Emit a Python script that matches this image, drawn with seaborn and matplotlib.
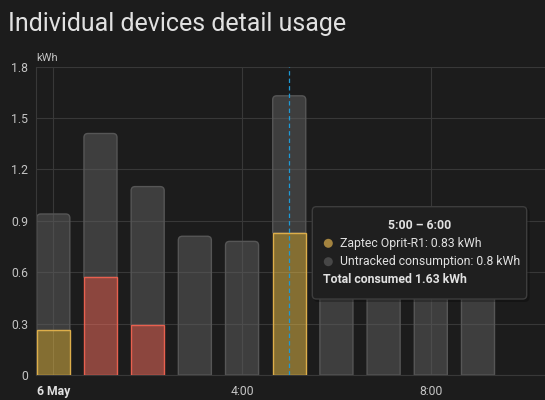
import numpy as np
import pandas as pd
import matplotlib
matplotlib.use("Agg")
import matplotlib.pyplot as plt
import seaborn as sns
from matplotlib.path import Path
from matplotlib.patches import PathPatch, FancyBboxPatch, Circle
from matplotlib.transforms import IdentityTransform

# ---------------- data ----------------
hours = [0, 1, 2, 3, 4, 5, 6, 7, 8, 9]
zaptec = [0.26, 0, 0, 0, 0, 0.83, 0, 0, 0, 0]
other_device = [0, 0.57, 0.29, 0, 0, 0, 0, 0, 0, 0]
untracked = [0.68, 0.84, 0.81, 0.81, 0.78, 0.80, 0.70, 0.66, 0.74, 0.69]
y_ticks = [0, 0.3, 0.6, 0.9, 1.2, 1.5, 1.8]
y_tick_labels = ["0", "0.3", "0.6", "0.9", "1.2", "1.5", "1.8"]
x_tick_hours = [0, 4, 8]
x_tick_labels = ["6 May", "4:00", "8:00"]
title = "Individual devices detail usage"
unit = "kWh"
tooltip_title = "5:00 \u2013 6:00"
tooltip_lines = ["Zaptec Oprit-R1: 0.83 kWh", "Untracked consumption: 0.8 kWh"]
tooltip_total = "Total consumed 1.63 kWh"
hover_hour = 5

# ---------------- style ----------------
BG = "#1c1c1c"
GRID = "#383838"
TXT = "#e1e1e1"
TICK = "#c4c4c4"
GRAY_FILL = (0.38, 0.38, 0.38, 0.5)
GRAY_EDGE = "#565656"
YEL_FILL = (236 / 255, 192 / 255, 72 / 255, 0.5)
YEL_EDGE = "#ddae4a"
RED_FILL = (252 / 255, 112 / 255, 96 / 255, 0.5)
RED_EDGE = "#e8604f"

sns.set_theme(style="dark", rc={
    "figure.facecolor": BG, "axes.facecolor": BG, "savefig.facecolor": BG,
    "axes.edgecolor": GRID, "grid.color": GRID, "text.color": TXT,
    "xtick.color": TICK, "ytick.color": TICK,
})
plt.rcParams["font.family"] = ["Roboto", "DejaVu Sans"]

W, H = 545, 400
fig = plt.figure(figsize=(W / 100, H / 100), dpi=100)
ax_left, ax_bottom, ax_top = 36.3, 375.0, 66.7
ax = fig.add_axes([ax_left / W, (H - ax_bottom) / H, 1 - ax_left / W, (ax_bottom - ax_top) / H])
ax.set_facecolor(BG)

device = np.array(zaptec) + np.array(other_device)
total = device + np.array(untracked)
df = pd.DataFrame({"hour": hours, "total": total, "zaptec": zaptec, "other": other_device})

xlim = (-0.36, 10.42)
ylim = (0, 1.8)

# gray (untracked) layer: positions from seaborn, drawn with rounded top corners
sns.barplot(data=df, x="hour", y="total", order=hours, width=0.7, errorbar=None,
            color="gray", ax=ax)
ax.set_xlim(*xlim)
ax.set_ylim(*ylim)
px_per_x = (W - ax_left) / (xlim[1] - xlim[0])
px_per_y = (ax_bottom - ax_top) / (ylim[1] - ylim[0])
r_px = 4.0
rx, ry = r_px / px_per_x, r_px / px_per_y

gray_bars = list(ax.patches)
for p, y0, y1 in zip(gray_bars, device, total):
    x0 = p.get_x()
    x1 = x0 + p.get_width()
    p.remove()
    verts = [(x0, y0), (x0, y1 - ry), (x0, y1), (x0 + rx, y1), (x1 - rx, y1),
             (x1, y1), (x1, y1 - ry), (x1, y0), (x0, y0)]
    codes = [Path.MOVETO, Path.LINETO, Path.CURVE3, Path.CURVE3, Path.LINETO,
             Path.CURVE3, Path.CURVE3, Path.LINETO, Path.CLOSEPOLY]
    ax.add_patch(PathPatch(Path(verts, codes), facecolor=GRAY_FILL, edgecolor=GRAY_EDGE,
                           lw=1.0, zorder=2))

# device layers
for col, fc, ec in [("zaptec", YEL_FILL, YEL_EDGE), ("other", RED_FILL, RED_EDGE)]:
    before = set(ax.patches)
    sub = df[df[col] > 0]
    sns.barplot(data=sub, x="hour", y=col, order=hours, width=0.7, errorbar=None,
                color="gray", ax=ax)
    for p in ax.patches:
        if p not in before:
            p.set_facecolor(fc)
            p.set_edgecolor(ec)
            p.set_linewidth(1.0)
            p.set_zorder(3)

ax.set_xlim(*xlim)
ax.set_ylim(*ylim)
ax.set_xlabel("")
ax.set_ylabel("")

# grid / spines
ax.set_axisbelow(True)
ax.grid(True, axis="both", color=GRID, lw=0.8)
for s in ["top", "right"]:
    ax.spines[s].set_visible(False)
for s in ["left", "bottom"]:
    ax.spines[s].set_visible(True)
    ax.spines[s].set_color(GRID)
    ax.spines[s].set_linewidth(0.8)

ax.set_yticks(y_ticks, y_tick_labels)
ax.set_xticks(x_tick_hours, x_tick_labels)
ax.tick_params(axis="y", length=0, pad=6, labelsize=8.8, labelcolor=TICK)
ax.tick_params(axis="x", length=0, pad=7, labelsize=8.8, labelcolor=TICK)
ax.get_xticklabels()[0].set_fontweight("bold")
ax.get_xticklabels()[0].set_color(TXT)

# hover line
ax.axvline(hover_hour, color="#1e9ad6", lw=0.9, ls=(0, (3.5, 2.5)), zorder=5)

# title and unit
fig.text(8.5 / W, 1 - 31 / H, title, fontsize=18, color=TXT, ha="left", va="baseline")
fig.text(36.7 / W, 1 - 58 / H, unit, fontsize=8, color=TICK, ha="left", va="center")

# tooltip
ident = IdentityTransform()
bx0, bx1, by_top, by_bot = 312.3, 526.7, 206.7, 299.0
shadow = FancyBboxPatch((bx0 + 1, H - by_bot - 3), bx1 - bx0 + 2, by_bot - by_top + 2,
                        boxstyle="round,pad=0,rounding_size=5", transform=ident,
                        facecolor=(0, 0, 0, 0.25), edgecolor="none", zorder=9)
fig.add_artist(shadow)
box = FancyBboxPatch((bx0, H - by_bot), bx1 - bx0, by_bot - by_top,
                     boxstyle="round,pad=0,rounding_size=4", transform=ident,
                     facecolor="#1f1f1f", edgecolor="#3d3d3d", lw=1.0, zorder=10)
fig.add_artist(box)
fs = 8.8
fig.text(419.7, H - 225.7, tooltip_title, transform=ident, fontsize=fs, fontweight="bold",
         color=TXT, ha="center", va="center", zorder=11)
dot_colors = ["#a3833f", "#474747"]
for i, (line, dc) in enumerate(zip(tooltip_lines, dot_colors)):
    yy = H - (243.3 + i * 18.4)
    fig.add_artist(Circle((328.3, yy), 4.5, transform=ident, facecolor=dc,
                          edgecolor="none", zorder=11))
    fig.text(340.3, yy, line, transform=ident, fontsize=fs, color=TXT,
             ha="left", va="center", zorder=11)
fig.text(323.3, H - 279.3, tooltip_total, transform=ident, fontsize=fs, fontweight="bold",
         color=TXT, ha="left", va="center", zorder=11)

fig.savefig("out.png", dpi=100)
